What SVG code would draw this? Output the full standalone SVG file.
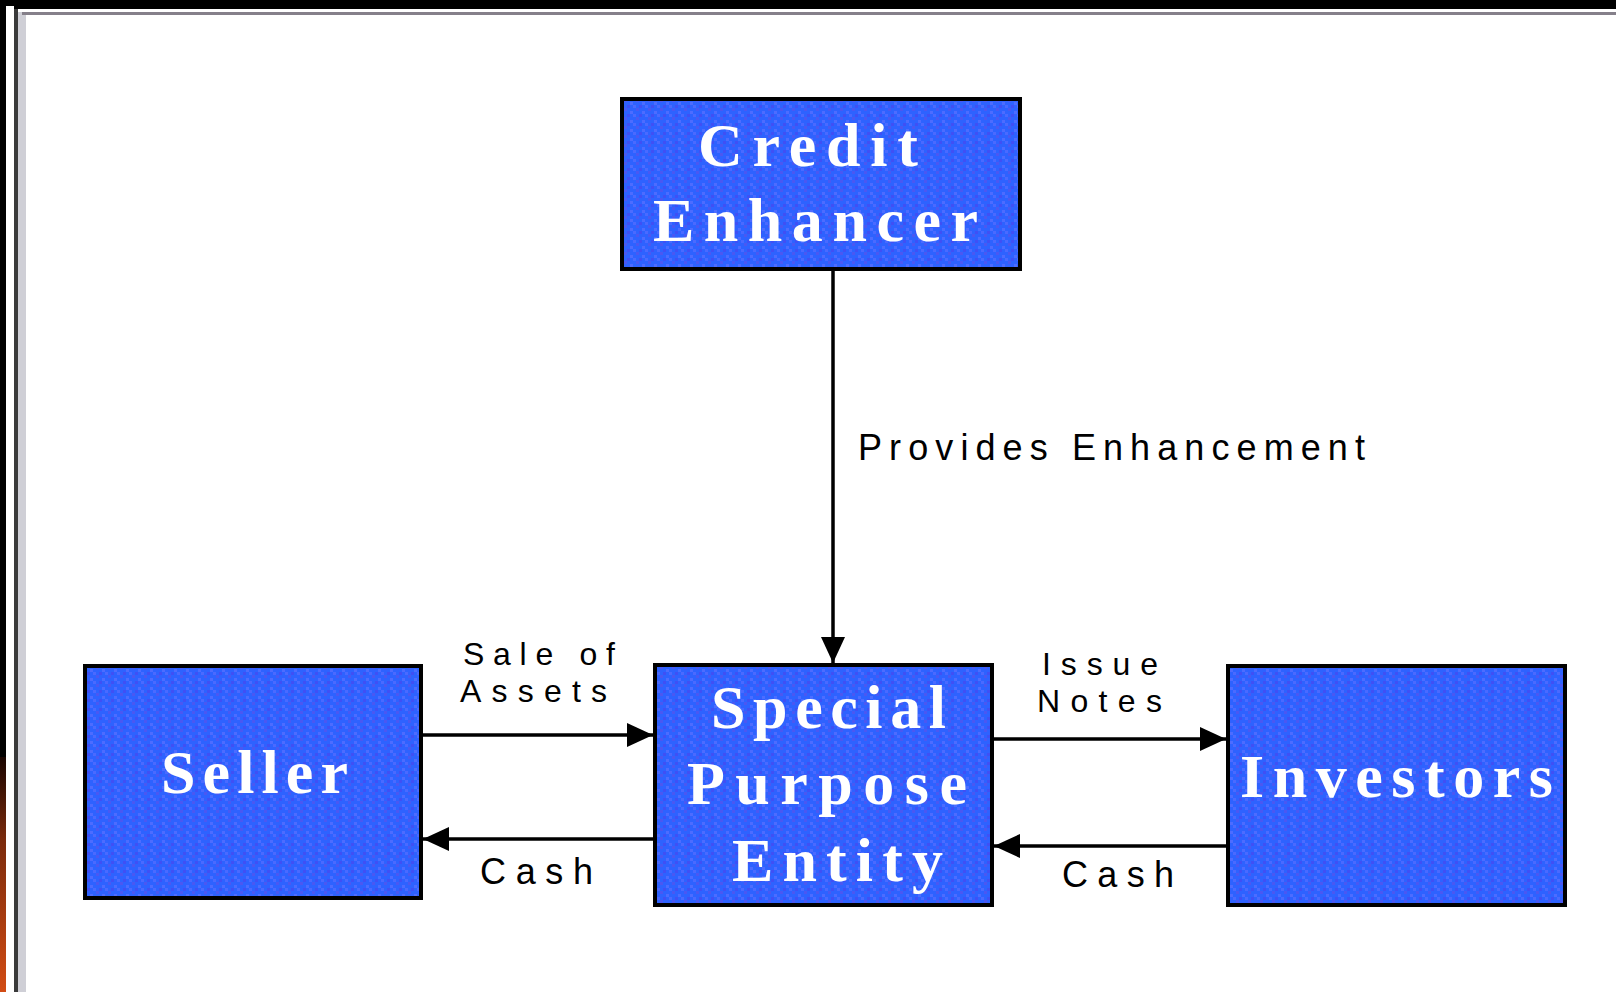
<svg xmlns="http://www.w3.org/2000/svg" width="1616" height="992" viewBox="0 0 1616 992">
<style>
.box{fill:url(#dither);stroke:#000;stroke-width:4}
.title{font-family:"Liberation Serif","Times New Roman",serif;font-weight:bold;font-size:62px;fill:#fff}
.lbl{font-family:"Liberation Sans",Arial,sans-serif;font-size:36px;fill:#000}
.pair{font-size:32px}
.conn{fill:none;stroke:#000;stroke-width:3.5}
</style>
<defs>
<pattern id="dither" width="12" height="9" patternUnits="userSpaceOnUse">
<rect width="12" height="9" fill="#2e62ff"/>
<rect x="0" y="0" width="3" height="3" fill="#4a58f2"/>
<rect x="6" y="3" width="3" height="3" fill="#4d6cff"/>
<rect x="3" y="6" width="3" height="3" fill="#3f50f5"/>
<rect x="9" y="6" width="3" height="3" fill="#4a6aff"/>
</pattern>
<linearGradient id="edge" x1="0" y1="0" x2="0" y2="1">
<stop offset="0" stop-color="#1a0500"/>
<stop offset="0.35" stop-color="#7a2a0c"/>
<stop offset="1" stop-color="#d24c14"/>
</linearGradient>
<marker id="head" viewBox="0 0 26 24" refX="26" refY="12" markerWidth="26" markerHeight="24" markerUnits="userSpaceOnUse" orient="auto">
<path d="M0,0 L26,12 L0,24 z" fill="#000"/>
</marker>
</defs>
<rect width="1616" height="992" fill="#fff"/>
<g id="frame">
<rect x="0" y="0" width="1616" height="9" fill="#000"/>
<rect x="0" y="0" width="6" height="992" fill="#000"/>
<rect x="0" y="757" width="6" height="235" fill="url(#edge)"/>
<rect x="6" y="6" width="8" height="986" fill="#fff"/>
<rect x="14" y="9" width="4" height="983" fill="#3a3a3a"/>
<rect x="18" y="12" width="8" height="980" fill="#cfcfd6"/>
<rect x="22" y="12" width="1594" height="3" fill="#85808a"/>
</g>
<g id="connectors">
<path class="conn" d="M833,271 V663" marker-end="url(#head)"/>
<path class="conn" d="M423,735 H653" marker-end="url(#head)"/>
<path class="conn" d="M653,839 H423" marker-end="url(#head)"/>
<path class="conn" d="M994,739 H1226" marker-end="url(#head)"/>
<path class="conn" d="M1226,846 H994" marker-end="url(#head)"/>
<text class="lbl" x="858" y="460" textLength="507" lengthAdjust="spacing">Provides Enhancement</text>
<text class="lbl pair" x="463" y="665" textLength="152" lengthAdjust="spacing">Sale of</text>
<text class="lbl pair" x="460" y="702" textLength="147" lengthAdjust="spacing">Assets</text>
<text class="lbl" x="480" y="884" textLength="113" lengthAdjust="spacing">Cash</text>
<text class="lbl pair" x="1042" y="675" textLength="116" lengthAdjust="spacing">Issue</text>
<text class="lbl pair" x="1037" y="712" textLength="125" lengthAdjust="spacing">Notes</text>
<text class="lbl" x="1062" y="887" textLength="112" lengthAdjust="spacing">Cash</text>
</g>
<g id="credit-enhancer">
<rect class="box" x="622" y="99" width="398" height="170"/>
<text class="title" x="698" y="166" textLength="220" lengthAdjust="spacing">Credit</text>
<text class="title" x="653" y="241" textLength="325" lengthAdjust="spacing">Enhancer</text>
</g>
<g id="seller">
<rect class="box" x="85" y="666" width="336" height="232"/>
<text class="title" x="161" y="793" textLength="187" lengthAdjust="spacing">Seller</text>
</g>
<g id="special-purpose-entity">
<rect class="box" x="655" y="665" width="337" height="240"/>
<text class="title" x="711" y="728" textLength="235" lengthAdjust="spacing">Special</text>
<text class="title" x="687" y="804" textLength="280" lengthAdjust="spacing">Purpose</text>
<text class="title" x="732" y="881" textLength="211" lengthAdjust="spacing">Entity</text>
</g>
<g id="investors">
<rect class="box" x="1228" y="666" width="337" height="239"/>
<text class="title" x="1240" y="797" textLength="313" lengthAdjust="spacing">Investors</text>
</g>
</svg>
